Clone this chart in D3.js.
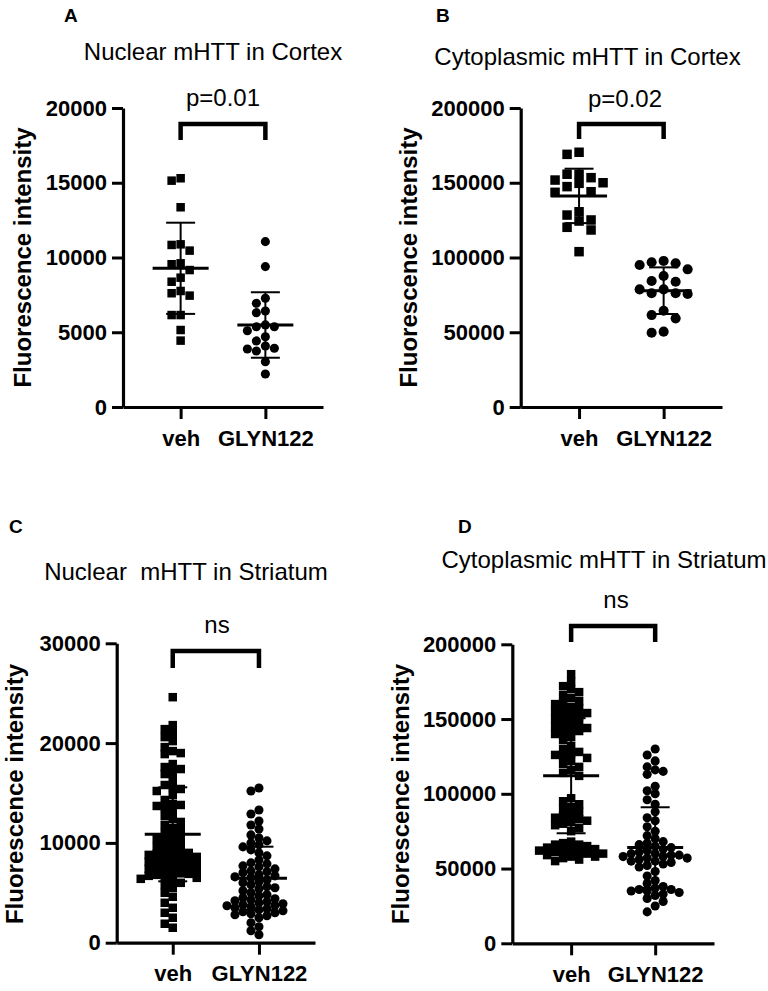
<!DOCTYPE html>
<html>
<head>
<meta charset="utf-8">
<script src="https://cdn.jsdelivr.net/npm/d3@7"></script>
<style>
  html, body { margin: 0; padding: 0; background: #fff; }
  svg { display: block; }
  text { font-family: "Liberation Sans", Arial, Helvetica, sans-serif; fill: #000; }
</style>
</head>
<body>
<script>
// ---------------- data ----------------
const categories = ["veh", "GLYN122"];
const panelLetters = ["A", "B", "C", "D"];
const panelTitles = ["Nuclear mHTT in Cortex", "Cytoplasmic mHTT in Cortex",
                     "Nuclear  mHTT in Striatum", "Cytoplasmic mHTT in Striatum"];
const sigLabels = ["p=0.01", "p=0.02", "ns", "ns"];
const yAxisTitle = "Fluorescence intensity";

const yTicksA = [0, 5000, 10000, 15000, 20000];
const yTicksB = [0, 50000, 100000, 150000, 200000];
const yTicksC = [0, 10000, 20000, 30000];
const yTicksD = [0, 50000, 100000, 150000, 200000];

// Panel A: Nuclear mHTT in Cortex
const aVeh  = [15300, 15140, 13360, 10840, 10880, 10460, 9610, 9550, 9160, 8380, 7760, 8650, 7450, 7610, 6150, 6150, 5150, 4440];
const aGlyn = [11060, 9390, 6940, 7270, 6310, 6420, 5370, 5370, 5100, 5490, 4700, 4420, 3880, 4080, 3750, 3930, 3030, 2210];
const aMean = [9278, 5485];
const aSD   = [3050, 2190];

// Panel B: Cytoplasmic mHTT in Cortex
const bVeh  = [169000, 170400, 155700, 149600, 151800, 155700, 150000, 153400, 147400, 144000, 143600, 130600, 124400, 125100, 128400, 118400, 120200, 103900];
const bGlyn = [97700, 95000, 96800, 96100, 92100, 87600, 83800, 84300, 76100, 76100, 75600, 78700, 78700, 64400, 59300, 61500, 49700, 50400];
const bMean = [141200, 77800];
const bSD   = [18200, 15600];

// Panel C: Nuclear mHTT in Striatum
const cVeh = [24600, 21800, 21400, 21000, 20600, 20200, 19600, 19200, 19000, 18900,
              17900, 17600, 17400, 17200, 16900, 16400, 15800, 15600, 15400, 15200,
              14800, 14300, 13900, 13800, 13700, 13500, 13100, 12700, 12400, 12100,
              11800, 11500, 11300, 11000, 10800, 10600, 10400, 10200, 10000, 9800,
              9600, 9400, 9200, 9100, 9000, 8900, 8800, 8700, 8600, 8500, 8400,
              8300, 8200, 8100, 8000, 7900, 7800, 7700, 7600, 7500, 7400,
              7300, 7200, 7000, 6950, 6900, 6800, 6700, 6600, 6500, 6400, 6200, 6000, 5800,
              5500, 5000, 4600, 4000, 3500, 3000, 2500, 1900, 1500];
const cGlyn = [15500, 15200, 13300, 12900, 12200, 11800, 11400, 10800, 10500, 10200, 10000,
               9800, 9600, 9300, 9000, 8700, 8300, 8000, 7900, 7700, 7600, 7400, 7200, 7100, 7000,
               6800, 6700, 6600, 6500, 6300, 6100, 6000, 5800, 5600, 5500, 5400, 5200, 5000,
               4800, 4700, 4500, 4400, 4300, 4200, 4100, 4000, 3900, 3800, 3750, 3700, 3600,
               3500, 3400, 3300, 3200, 3100, 3000, 2900, 2800, 2700, 2500,
               2000, 1600, 1200, 800];
const cMean = [10860, 6450];
const cSD   = [4710, 3170];

// Panel D: Cytoplasmic mHTT in Striatum
const dVeh = [180000, 175000, 172000, 170000, 168000, 166000,
              164000, 162000, 161000, 160000, 158000, 157000, 156000, 155000, 154000, 153000, 152000, 151000, 150000,
              148000, 147000, 146000, 145000, 144000, 143000, 142000, 141000, 140000, 138000, 136000,
              132000, 130000, 128000, 127000, 126000, 125000, 124000, 122000, 120000,
              118000, 116000, 114000, 112000,
              97000, 95000, 93000, 91000, 90000,
              88000, 86000, 85000, 84000, 83000, 82000, 81000, 80000, 79000, 77000, 75000,
              68000, 67000, 66000, 66000, 65000, 64000, 63000, 63000, 62000, 62000, 61000, 61000,
              60000, 60000, 59000, 58000, 58000, 57000, 56000, 55000];
const dGlyn = [130000, 126000, 122000, 118000, 116000, 115000, 113000,
               105000, 102000, 100000, 96000, 93000,
               88000, 84000, 82000, 78000, 75000, 72000, 70000,
               68000, 67000, 66000, 65000, 64000, 63000, 62000, 61000, 60000, 60000, 59000, 59000,
               58000, 58000, 57000, 57000, 56000, 55000, 55000, 54000, 53000, 52000, 51000,
               48000, 45000, 42000, 40000,
               38000, 37000, 36000, 36000, 35000, 35000, 34000, 33000, 32000, 30000, 28000, 25000, 21000];
const dMean = [112100, 64000];
const dSD   = [38500, 27000];

// ---------------- layout (positions / styles) ----------------
const W = 768, H = 991;
const FONT = '"Liberation Sans", Arial, Helvetica, sans-serif';
const panels = [
  { series: [aVeh, aGlyn], mean: aMean, sd: aSD, ticks: yTicksA, ymax: 20000,
    axisX: 123, axisEnd: 323, yTop: 108, yBot: 407, pad: 0.68,
    letter: [64, 22], title: [213, 60], sig: [223, 106], brTop: 124, brLeg: 140,
    ylab: [31, 257.5], marker: 8.5, step: 9, overlap: 0.95 },
  { series: [bVeh, bGlyn], mean: bMean, sd: bSD, ticks: yTicksB, ymax: 200000,
    axisX: 520.7, axisEnd: 722, yTop: 108, yBot: 407, pad: 0.69,
    letter: [436, 22], title: [587.5, 65], sig: [625, 107], brTop: 124, brLeg: 139,
    ylab: [417, 257.5], marker: 9.5, step: 12, overlap: 0.95 },
  { series: [cVeh, cGlyn], mean: cMean, sd: cSD, ticks: yTicksC, ymax: 30000,
    axisX: 116.7, axisEnd: 315, yTop: 643.3, yBot: 942.7, pad: 0.65,
    letter: [9, 533], title: [186, 580], sig: [217, 633], brTop: 651, brLeg: 668,
    ylab: [23, 794], marker: 8.5, step: 8, overlap: 0.75 },
  { series: [dVeh, dGlyn], mean: dMean, sd: dSD, ticks: yTicksD, ymax: 200000,
    axisX: 512.3, axisEnd: 714, yTop: 644.3, yBot: 943.3, pad: 0.7,
    letter: [458, 533], title: [604, 568], sig: [616, 608], brTop: 626, brLeg: 642,
    ylab: [409, 794], marker: 8.5, step: 8, overlap: 0.85 }
];

const svg = d3.select("body").append("svg").attr("width", W).attr("height", H)
  .style("background", "#fff");

function swarm(values, y, cx, step, size, overlap) {
  const placed = [];
  const sorted = values.slice().sort((a, b) => b - a);
  return sorted.map(v => {
    const yy = y(v);
    for (let k = 0; k < 60; k++) {
      const off = k === 0 ? 0 : (k % 2 ? -1 : 1) * Math.ceil(k / 2) * step;
      const xx = cx + off;
      const hit = placed.some(p => Math.abs(p.x - xx) < step * 0.5 && Math.abs(p.y - yy) < size * overlap);
      if (!hit) { placed.push({ x: xx, y: yy }); return { v, x: xx, y: yy }; }
    }
    return { v, x: cx, y: yy };
  });
}

panels.forEach((P, pi) => {
  const g = svg.append("g");
  const y = d3.scaleLinear().domain([0, P.ymax]).range([P.yBot, P.yTop]);
  const x = d3.scalePoint().domain(categories).range([P.axisX, P.axisEnd]).padding(P.pad);

  // points
  P.series.forEach((vals, si) => {
    const pts = swarm(vals, y, x(categories[si]), P.step, P.marker, P.overlap);
    if (si === 0) {
      g.selectAll(null).data(pts).enter().append("rect")
        .attr("x", d => d.x - P.marker / 2).attr("y", d => d.y - P.marker / 2)
        .attr("width", P.marker).attr("height", P.marker).attr("fill", "#000");
    } else {
      g.selectAll(null).data(pts).enter().append("circle")
        .attr("cx", d => d.x).attr("cy", d => d.y).attr("r", P.marker / 2 + 0.3)
        .attr("fill", "#000");
    }
  });

  // mean +/- SD
  categories.forEach((c, si) => {
    const cx = x(c), m = P.mean[si], s = P.sd[si];
    g.append("line").attr("x1", cx).attr("x2", cx).attr("y1", y(m - s)).attr("y2", y(m + s))
      .attr("stroke", "#000").attr("stroke-width", 2);
    [m - s, m + s].forEach(v => g.append("line")
      .attr("x1", cx - 14.5).attr("x2", cx + 14.5).attr("y1", y(v)).attr("y2", y(v))
      .attr("stroke", "#000").attr("stroke-width", 2));
    g.append("line").attr("x1", cx - 28).attr("x2", cx + 28).attr("y1", y(m)).attr("y2", y(m))
      .attr("stroke", "#000").attr("stroke-width", 3);
  });

  // y axis
  const ya = g.append("g").attr("transform", `translate(${P.axisX},0)`)
    .call(d3.axisLeft(y).tickValues(P.ticks).tickFormat(d3.format("d"))
      .tickSize(11).tickSizeOuter(0).tickPadding(5));
  ya.select(".domain").attr("stroke-width", 3.2);
  ya.selectAll(".tick line").attr("stroke-width", 3);
  ya.selectAll(".tick text").attr("font-family", FONT).attr("font-size", 22)
    .attr("font-weight", "bold").attr("fill", "#000");

  // x axis
  const xa = g.append("g").attr("transform", `translate(0,${P.yBot})`)
    .call(d3.axisBottom(x).tickSize(12).tickSizeOuter(0).tickPadding(11));
  xa.select(".domain").attr("stroke-width", 3.2);
  xa.selectAll(".tick line").attr("stroke-width", 3);
  xa.selectAll(".tick text").attr("font-family", FONT).attr("font-size", 22)
    .attr("font-weight", "bold").attr("fill", "#000");

  // y title
  g.append("text").attr("transform", `translate(${P.ylab[0]},${P.ylab[1]}) rotate(-90)`)
    .attr("text-anchor", "middle").attr("font-size", 24).attr("font-weight", "bold")
    .text(yAxisTitle);

  // panel letter
  g.append("text").attr("x", P.letter[0]).attr("y", P.letter[1])
    .attr("font-size", 19).attr("font-weight", "bold").text(panelLetters[pi]);

  // title
  g.append("text").attr("x", P.title[0]).attr("y", P.title[1]).attr("text-anchor", "middle")
    .attr("font-size", 24).style("white-space", "pre").text(panelTitles[pi]);

  // significance bracket
  const x0 = x(categories[0]), x1 = x(categories[1]);
  g.append("path")
    .attr("d", `M${x0},${P.brLeg}V${P.brTop}H${x1}V${P.brLeg}`)
    .attr("fill", "none").attr("stroke", "#000").attr("stroke-width", 4.5)
    .attr("stroke-linejoin", "miter");
  g.append("text").attr("x", P.sig[0]).attr("y", P.sig[1]).attr("text-anchor", "middle")
    .attr("font-size", 24).text(sigLabels[pi]);
});
</script>
</body>
</html>
